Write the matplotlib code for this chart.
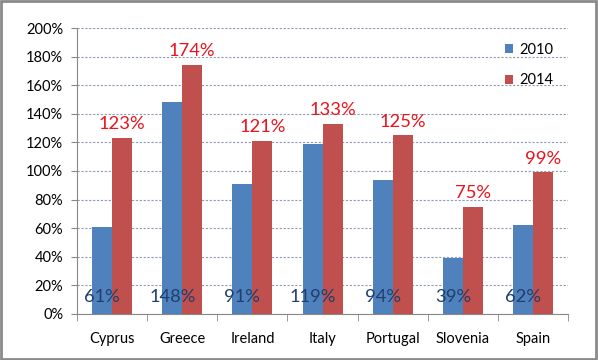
import numpy as np
import matplotlib.pyplot as plt
from matplotlib.patches import Rectangle

plt.rcParams['font.family'] = ['Lato', 'DejaVu Sans']

countries = ['Cyprus', 'Greece', 'Ireland', 'Italy', 'Portugal', 'Slovenia', 'Spain']
v2010 = [61, 148, 91, 119, 94, 39, 62]
v2014 = [123, 174, 121, 133, 125, 75, 99]
yticks = [0, 20, 40, 60, 80, 100, 120, 140, 160, 180, 200]

blue = '#4F81BD'
red = '#C0504D'

fig = plt.figure(figsize=(5.98, 3.6), dpi=100)
ax = fig.add_axes([0.1288, 0.1278, 0.8212, 0.7944])

x = np.arange(len(countries))
w = 0.285
ax.bar(x - w / 2, v2010, w, color=blue, label='2010', zorder=3)
ax.bar(x + w / 2, v2014, w, color=red, label='2014', zorder=3)

# etiquetas de valores
for i in range(len(countries)):
    ax.text(x[i] - w / 2, 12, f'{v2010[i]}%', ha='center', va='center',
            fontsize=13.2, color='#1F3F6E', zorder=4)
    ax.text(x[i] + w / 2, v2014[i] + 4, f'{v2014[i]}%', ha='center', va='bottom',
            fontsize=13.2, color='#E8141E', zorder=4)

ax.set_xlim(-0.5, len(countries) - 0.5)
ax.set_ylim(0, 200)
ax.set_yticks(yticks)
ax.set_yticklabels([f'{t}%' for t in yticks], fontsize=10.5)
ax.set_xticks(x)
ax.set_xticklabels(countries, fontsize=10.5)
ax.set_xticks(np.arange(-0.5, len(countries)), minor=True)
ax.tick_params(axis='x', which='major', length=0, pad=13)
ax.tick_params(axis='x', which='minor', length=5, color='#888888')
ax.tick_params(axis='y', length=4, color='#888888', pad=6)

ax.grid(axis='y', linestyle=(0, (2, 1.5)), color='#8E9BB0', linewidth=0.8, zorder=0)
for s in ['top', 'right']:
    ax.spines[s].set_visible(False)
for s in ['left', 'bottom']:
    ax.spines[s].set_color('#888888')

ax.legend(loc='upper left', bbox_to_anchor=(0.845, 0.995), frameon=False, fontsize=10.5,
          handlelength=0.55, handleheight=0.55, handletextpad=0.4, labelspacing=1.15)

fig.patches.append(Rectangle((0.002, 0.003), 0.995, 0.993, transform=fig.transFigure,
                             fill=False, edgecolor='#8A8A8A', linewidth=2))

fig.savefig('out.png', dpi=100)
